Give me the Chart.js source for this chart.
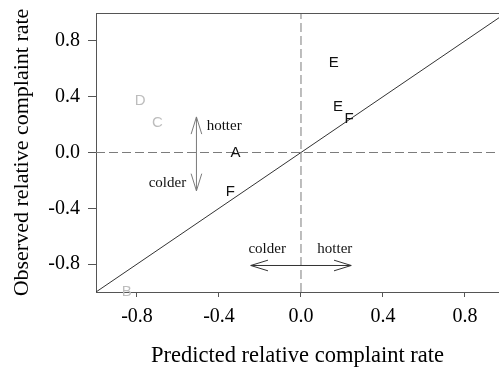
<!DOCTYPE html>
<html>
<head>
<meta charset="utf-8">
<script src="https://cdn.jsdelivr.net/npm/chart.js@4.4.0/dist/chart.umd.min.js"></script>
<style>
  html, body { margin: 0; padding: 0; background: #fff; }
  #wrap { width: 499px; height: 368px; }
</style>
</head>
<body>
<div id="wrap"><canvas id="chart" width="499" height="368"></canvas></div>
<script>
/** Data **/

// letters plotted at (predicted, observed)
const point_letters = ["E", "E", "F", "A", "F", "D", "C", "B"];
const predicted_rate = [0.16, 0.18, 0.235, -0.32, -0.345, -0.785, -0.70, -0.85];
const observed_rate = [0.64, 0.33, 0.24, 0.00, -0.285, 0.37, 0.21, -1.00];
const faded_letter = [false, false, false, false, false, true, true, true];

const axis_ticks = [-0.8, -0.4, 0.0, 0.4, 0.8];

// y = x reference line
const diagonal_x = [-1, 1];
const diagonal_y = [-1, 1];

// double headed arrows: [x0, y0, x1, y1]
const vertical_arrow = [-0.51, -0.275, -0.51, 0.255];
const horizontal_arrow = [-0.245, -0.81, 0.245, -0.81];

// words next to the arrows
const arrow_words = ["hotter", "colder", "colder", "hotter"];
const arrow_word_x = [-0.46, -0.56, -0.165, 0.165];
const arrow_word_y = [0.19, -0.22, -0.69, -0.69];
const arrow_word_align = ["left", "right", "center", "center"];

/** Styles **/
const serif = "'Liberation Serif', 'Times New Roman', serif";
const sans = "'Liberation Sans', Arial, sans-serif";
const axis_color = "#555";
const dash_color = "#7c7c7c";

function draw_arrow(ctx, xs, ys, a, color) {
    const head_len = 18;
    const head_angle = 0.30;
    const x0 = xs.getPixelForValue(a[0]), y0 = ys.getPixelForValue(a[1]);
    const x1 = xs.getPixelForValue(a[2]), y1 = ys.getPixelForValue(a[3]);
    const ang = Math.atan2(y1 - y0, x1 - x0);
    ctx.save();
    ctx.strokeStyle = color;
    ctx.lineWidth = 1;
    ctx.beginPath();
    ctx.moveTo(x0, y0);
    ctx.lineTo(x1, y1);
    [[x1, y1, ang], [x0, y0, ang + Math.PI]].forEach(function(h) {
        [-1, 1].forEach(function(s) {
            ctx.moveTo(h[0], h[1]);
            ctx.lineTo(h[0] - head_len * Math.cos(h[2] + s * head_angle),
                       h[1] - head_len * Math.sin(h[2] + s * head_angle));
        });
    });
    ctx.stroke();
    ctx.restore();
}

const annotations_plugin = {
    id: 'annotations',
    afterDatasetsDraw(chart) {
        const ctx = chart.ctx;
        const xs = chart.scales.x, ys = chart.scales.y;
        const area = chart.chartArea;

        // top edge of the plot box
        ctx.save();
        ctx.strokeStyle = axis_color;
        ctx.lineWidth = 1;
        ctx.beginPath();
        ctx.moveTo(area.left, area.top + 0.5);
        ctx.lineTo(area.right, area.top + 0.5);
        ctx.stroke();
        ctx.restore();

        draw_arrow(ctx, xs, ys, vertical_arrow, "#7a7a7a");
        draw_arrow(ctx, xs, ys, horizontal_arrow, "#333");

        // letters at the points
        const meta = chart.getDatasetMeta(3);
        ctx.save();
        ctx.font = "15px " + sans;
        ctx.textAlign = "center";
        ctx.textBaseline = "middle";
        meta.data.forEach(function(pt, i) {
            ctx.fillStyle = faded_letter[i] ? "#bdbdbd" : "#111";
            ctx.fillText(point_letters[i], pt.x, pt.y);
        });

        // arrow words
        ctx.font = "15px " + serif;
        ctx.fillStyle = "#111";
        arrow_words.forEach(function(w, i) {
            ctx.textAlign = arrow_word_align[i];
            ctx.fillText(w, xs.getPixelForValue(arrow_word_x[i]), ys.getPixelForValue(arrow_word_y[i]));
        });
        ctx.restore();
    }
};

function no_padding(s) {
    s.paddingTop = 0;
    s.paddingBottom = 0;
    s.paddingLeft = 0;
    s.paddingRight = 0;
}

new Chart(document.getElementById("chart"), {
    type: 'scatter',
    data: {
        datasets: [
            {
                // vertical dashed line at x = 0
                data: [{x: 0, y: -1}, {x: 0, y: 1}],
                showLine: true, borderColor: dash_color, borderWidth: 1,
                borderDash: [9, 4], pointRadius: 0
            },
            {
                // horizontal dashed line at y = 0
                data: [{x: -1, y: 0}, {x: 1, y: 0}],
                showLine: true, borderColor: dash_color, borderWidth: 1,
                borderDash: [9, 4], pointRadius: 0
            },
            {
                data: diagonal_x.map((x, i) => ({x: x, y: diagonal_y[i]})),
                showLine: true, borderColor: "#333", borderWidth: 1, pointRadius: 0
            },
            {
                data: predicted_rate.map((x, i) => ({x: x, y: observed_rate[i]})),
                pointRadius: 0
            }
        ]
    },
    options: {
        responsive: false,
        animation: false,
        layout: { padding: { top: 13, right: 0, left: 0, bottom: 0 } },
        plugins: { legend: { display: false }, tooltip: { enabled: false } },
        scales: {
            x: {
                type: 'linear', min: -1, max: 0.966,
                afterBuildTicks: function(s) { s.ticks = axis_ticks.map(v => ({value: v})); },
                afterFit: function(s) { s.height = 76; no_padding(s); },
                ticks: {
                    font: { family: serif, size: 20 }, color: "#000", padding: 8,
                    maxRotation: 0, callback: v => v.toFixed(1)
                },
                grid: { drawOnChartArea: false, tickLength: 5, color: axis_color },
                border: { color: axis_color },
                title: {
                    display: true, text: "Predicted relative complaint rate",
                    font: { family: serif, size: 22.5, lineHeight: 1.1 }, color: "#000", padding: 0
                }
            },
            y: {
                type: 'linear', min: -1, max: 1,
                afterBuildTicks: function(s) { s.ticks = axis_ticks.map(v => ({value: v})); },
                afterFit: function(s) { s.width = 96; no_padding(s); },
                ticks: {
                    font: { family: serif, size: 20 }, color: "#000", padding: 8,
                    callback: v => v.toFixed(1)
                },
                grid: { drawOnChartArea: false, tickLength: 8, color: axis_color },
                border: { color: axis_color },
                title: {
                    display: true, text: "Observed relative complaint rate",
                    font: { family: serif, size: 22, lineHeight: 1.1 }, color: "#000", padding: { top: 10, bottom: 0 }
                }
            }
        }
    },
    plugins: [annotations_plugin]
});
</script>
</body>
</html>
